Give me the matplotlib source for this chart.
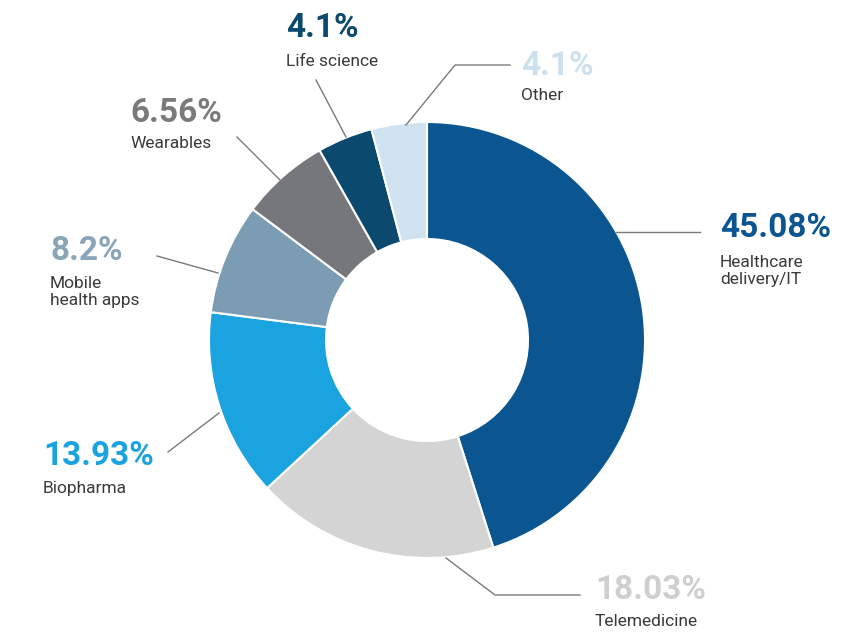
import matplotlib
matplotlib.use("Agg")
import matplotlib.pyplot as plt

categories = ["Healthcare\ndelivery/IT", "Telemedicine", "Biopharma",
              "Mobile\nhealth apps", "Wearables", "Life science", "Other"]
values = [45.08, 18.03, 13.93, 8.2, 6.56, 4.1, 4.1]
pct_labels = ["45.08%", "18.03%", "13.93%", "8.2%", "6.56%", "4.1%", "4.1%"]
colors = ["#0B5690", "#D4D4D4", "#1BA3DF", "#7B9CB3", "#75777A", "#0B4A6E", "#CFE2F0"]
label_colors = ["#0B5690", "#CFCFCF", "#1BA3DF", "#8AA5B8", "#7A7A7A", "#0B4A6E", "#CCE0EE"]

W, H = 848, 635
fig = plt.figure(figsize=(W / 100, H / 100), dpi=100)
ax = fig.add_axes([0, 0, 1, 1])
ax.set_xlim(0, W)
ax.set_ylim(0, H)
ax.axis("off")

def Y(y):
    return H - y

cx, cy, R, r_in = 427, 340, 218, 101
ax.pie(values, colors=colors, startangle=90, counterclock=False,
       center=(cx, Y(cy)), radius=R, frame=True,
       wedgeprops=dict(width=R - r_in, edgecolor="white", linewidth=1.5))
ax.set_xlim(0, W)
ax.set_ylim(0, H)
ax.set_aspect("equal")
ax.axis("off")

# leader lines (pixel coordinates from top-left)
leaders = [
    [(616, 232), (700, 232)],
    [(446, 558), (495, 595), (580, 595)],
    [(219, 413), (168, 452)],
    [(218, 273), (157, 256)],
    [(280, 180), (237, 137)],
    [(346, 137), (316, 80)],
    [(406, 125), (455, 65), (510, 65)],
]
for pts in leaders:
    ax.plot([p[0] for p in pts], [Y(p[1]) for p in pts], color="#7A7A7A", lw=1.0)

fam = ["Roboto", "DejaVu Sans"]
# (x, y_pct, y_label) for each category
text_pos = [
    (720, 228, 271),
    (595, 590, 622),
    (43, 456, 489),
    (50, 251, 292),
    (130, 113, 144),
    (286, 28, 61),
    (521, 66, 96),
]
for (x, yp, yl), pct, lab, lc in zip(text_pos, pct_labels, categories, label_colors):
    ax.text(x, Y(yp), pct, color=lc, fontsize=24, fontweight="bold", family=fam,
            ha="left", va="center")
    ax.text(x, Y(yl), lab, color="#3A3A3A", fontsize=12.5, family=fam,
            ha="left", va="center", linespacing=1.15)

fig.savefig("out.png", dpi=100, facecolor="white")
